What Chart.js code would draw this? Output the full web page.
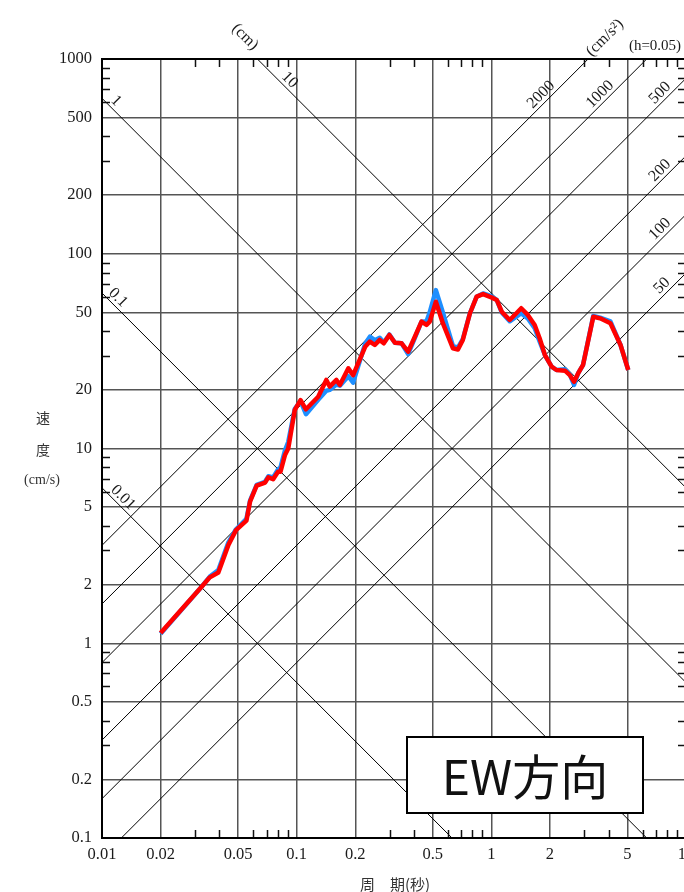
<!DOCTYPE html>
<html>
<head>
<meta charset="utf-8">
<script src="https://cdn.jsdelivr.net/npm/chart.js@4.4.1/dist/chart.umd.min.js"></script>
<style>
  html, body { margin: 0; padding: 0; overflow: hidden; background: #fff; }
  #wrap { position: relative; width: 720px; height: 892px; }
</style>
</head>
<body>
<div id="wrap"><canvas id="spec" width="720" height="892"></canvas></div>
<script>
// Pseudo-velocity response spectrum, h = 0.05, EW component
const periods = [
  0.02, 0.0325, 0.0358, 0.0396, 0.0446, 0.0488, 0.0552, 0.0576, 0.0623, 0.0688,
  0.0715, 0.0757, 0.0802, 0.0826, 0.0871, 0.0905, 0.0978, 0.1047, 0.1116, 0.129,
  0.142, 0.1478, 0.160, 0.1667, 0.1843, 0.195, 0.2248, 0.2377, 0.252, 0.267,
  0.2802, 0.2994, 0.3197, 0.3459, 0.3737, 0.4047, 0.4378, 0.4645, 0.4825, 0.519,
  0.5636, 0.6353, 0.6737, 0.7137, 0.7766, 0.8406, 0.907, 1.0, 1.066, 1.131,
  1.243, 1.345, 1.424, 1.54, 1.67, 1.77, 1.885, 2.04, 2.16, 2.39,
  2.53, 2.66, 2.79, 2.96, 3.34, 3.62, 4.09, 4.61, 5.05
];
const velRed = [
  1.13, 1.95, 2.18, 2.31, 3.20, 3.81, 4.26, 5.33, 6.44, 6.68,
  7.11, 6.95, 7.60, 7.60, 9.27, 10.0, 15.8, 17.7, 15.9, 18.45,
  22.5, 20.8, 22.5, 21.2, 25.8, 23.8, 33.3, 35.4, 34.0, 36.1,
  34.7, 38.3, 34.9, 34.7, 31.4, 37.5, 44.8, 43.1, 44.8, 56.7,
  44.0, 32.7, 32.2, 36.1, 49.5, 60.2, 62.1, 59.7, 57.9, 50.4,
  45.7, 49.5, 52.5, 48.5, 43.1, 36.8, 30.2, 26.3, 25.3, 25.1,
  23.8, 22.0, 24.3, 26.9, 47.5, 46.6, 44.0, 34.0, 25.3
];
const velBlue = [
  1.12, 1.95, 2.20, 2.38, 3.30, 3.85, 4.35, 5.40, 6.50, 6.75,
  7.20, 7.10, 7.80, 8.00, 9.80, 10.8, 16.0, 17.5, 15.0, 17.8,
  19.8, 20.0, 21.3, 21.0, 23.5, 21.8, 34.5, 37.5, 36.0, 37.0,
  35.0, 38.5, 34.9, 34.7, 30.5, 37.0, 44.8, 45.0, 50.0, 65.1,
  50.0, 33.5, 33.0, 36.5, 49.5, 60.2, 62.5, 60.5, 57.9, 50.0,
  45.0, 47.5, 49.5, 46.5, 41.5, 35.5, 30.2, 26.3, 25.3, 25.5,
  24.0, 21.2, 24.3, 26.9, 48.0, 47.0, 45.0, 34.0, 25.3
];

const xTicks = [0.01, 0.02, 0.05, 0.1, 0.2, 0.5, 1, 2, 5, 10];
const xTickLabels = ['0.01', '0.02', '0.05', '0.1', '0.2', '0.5', '1', '2', '5', '10'];
const yTicks = [0.1, 0.2, 0.5, 1, 2, 5, 10, 20, 50, 100, 200, 500, 1000];
const yTickLabels = ['0.1', '0.2', '0.5', '1', '2', '5', '10', '20', '50', '100', '200', '500', '1000'];
const minorMultipliers = [3, 4, 6, 7, 8, 9];

// Displacement (cm) and acceleration (cm/s²) guide lines
const dispLines = [0.01, 0.1, 1, 10];
const dispLabels = ['0.01', '0.1', '1', '10'];
const accLines = [50, 100, 200, 500, 1000, 2000];
const accLabels = ['50', '100', '200', '500', '1000', '2000'];

const TWO_PI = 2 * Math.PI;
const SERIF = '"Liberation Serif", "DejaVu Serif", serif';
const CJK = '"Noto Sans CJK JP", "Noto Sans", sans-serif';

function velFromDisp(D, T) { return TWO_PI * D / T; }
function velFromAcc(A, T) { return A * T / TWO_PI; }

function rotText(ctx, text, x, y, angle) {
  ctx.save();
  ctx.translate(x, y);
  ctx.rotate(angle);
  ctx.fillText(text, 0, 0);
  ctx.restore();
}

const tripartite = {
  id: 'tripartite',
  beforeDatasetsDraw(chart) {
    const { ctx, chartArea: a, scales: { x, y } } = chart;
    ctx.save();
    ctx.beginPath();
    ctx.rect(a.left, a.top, a.right - a.left, a.bottom - a.top);
    ctx.clip();
    ctx.strokeStyle = '#000';
    ctx.lineWidth = 1;
    const T0 = x.min, T1 = x.max;
    dispLines.forEach(D => {
      ctx.beginPath();
      ctx.moveTo(x.getPixelForValue(T0), y.getPixelForValue(velFromDisp(D, T0)));
      ctx.lineTo(x.getPixelForValue(T1), y.getPixelForValue(velFromDisp(D, T1)));
      ctx.stroke();
    });
    accLines.forEach(A => {
      ctx.beginPath();
      ctx.moveTo(x.getPixelForValue(T0), y.getPixelForValue(velFromAcc(A, T0)));
      ctx.lineTo(x.getPixelForValue(T1), y.getPixelForValue(velFromAcc(A, T1)));
      ctx.stroke();
    });
    ctx.restore();

    // minor ticks on all four sides
    ctx.save();
    ctx.strokeStyle = '#111';
    ctx.lineWidth = 1.5;
    const tl = 8;
    for (let d = 0.01; d < 10; d *= 10) {
      minorMultipliers.forEach(m => {
        const px = Math.round(x.getPixelForValue(m * d)) + 0.5;
        ctx.beginPath();
        ctx.moveTo(px, a.top); ctx.lineTo(px, a.top + tl);
        ctx.moveTo(px, a.bottom); ctx.lineTo(px, a.bottom - tl);
        ctx.stroke();
      });
    }
    for (let d = 0.1; d < 1000; d *= 10) {
      minorMultipliers.forEach(m => {
        const py = Math.round(y.getPixelForValue(m * d)) + 0.5;
        ctx.beginPath();
        ctx.moveTo(a.left, py); ctx.lineTo(a.left + tl, py);
        ctx.moveTo(a.right, py); ctx.lineTo(a.right - tl, py);
        ctx.stroke();
      });
    }
    ctx.restore();
  },
  afterDatasetsDraw(chart) {
    const { ctx, chartArea: a, scales: { x, y } } = chart;
    ctx.save();
    // frame
    ctx.strokeStyle = '#000';
    ctx.lineWidth = 2;
    ctx.strokeRect(a.left, a.top, a.right - a.left, a.bottom - a.top);

    // tick labels
    ctx.fillStyle = '#1a1a1a';
    ctx.font = '16.5px ' + SERIF;
    ctx.textAlign = 'right';
    ctx.textBaseline = 'middle';
    yTicks.forEach((v, i) => ctx.fillText(yTickLabels[i], a.left - 10, y.getPixelForValue(v)));
    ctx.textAlign = 'center';
    xTicks.forEach((v, i) => ctx.fillText(xTickLabels[i], x.getPixelForValue(v), a.bottom + 17));

    // guide line labels
    ctx.font = '16px ' + SERIF;
    const off = 5.7;
    const dispAnchorDx = { '0.01': 15.3, '0.1': 10.3, '1': 8.3, '10': 182 };
    dispLines.forEach((D, i) => {
      const px = a.left + dispAnchorDx[dispLabels[i]];
      const py = y.getPixelForValue(velFromDisp(D, x.getValueForPixel(px)));
      rotText(ctx, dispLabels[i], px + off, py - off, Math.PI / 4);
    });
    const accAnchorDx = { '50': 565.7, '100': 563.7, '200': 563.7, '500': 563.7, '1000': 503.7, '2000': 444.7 };
    accLines.forEach((A, i) => {
      const px = a.left + accAnchorDx[accLabels[i]];
      const py = y.getPixelForValue(velFromAcc(A, x.getValueForPixel(px)));
      rotText(ctx, accLabels[i], px - off, py - off, -Math.PI / 4);
    });
    rotText(ctx, '(cm)', a.left + 143, a.top - 22, Math.PI / 4);
    rotText(ctx, '(cm/s²)', a.left + 503, a.top - 21, -Math.PI / 4);
    ctx.font = '15px ' + SERIF;
    ctx.fillText('(h=0.05)', a.left + 553, a.top - 13);

    // axis titles
    ctx.fillStyle = '#333';
    ctx.font = '14px ' + CJK;
    ctx.fillText('速', 43, 418);
    ctx.fillText('度', 43, 450);
    ctx.font = '14px ' + SERIF;
    ctx.fillText('(cm/s)', 42, 480);
    ctx.font = '15px ' + CJK;
    ctx.fillText('周\u3000期(秒)', 395, 884);

    // component box
    const bx = a.left + 305, by = a.top + 678, bw = 236, bh = 76;
    ctx.fillStyle = '#fff';
    ctx.fillRect(bx, by, bw, bh);
    ctx.strokeStyle = '#000';
    ctx.lineWidth = 2;
    ctx.strokeRect(bx, by, bw, bh);
    ctx.fillStyle = '#111';
    ctx.font = '48px ' + CJK;
    ctx.fillText('EW方向', bx + bw / 2, by + bh / 2 + 2);
    ctx.restore();
  }
};

const toPoints = vals => periods.map((t, i) => ({ x: t, y: vals[i] }));

new Chart(document.getElementById('spec'), {
  type: 'scatter',
  data: {
    datasets: [
      { label: 'EW-2', data: toPoints(velRed), borderColor: '#ff0000', borderWidth: 4.5,
        showLine: true, pointRadius: 0, tension: 0, borderJoinStyle: 'round', order: 0 },
      { label: 'EW-1', data: toPoints(velBlue), borderColor: '#1e8fff', borderWidth: 4.5,
        showLine: true, pointRadius: 0, tension: 0, borderJoinStyle: 'round', order: 1 }
    ]
  },
  options: {
    responsive: false,
    animation: false,
    events: [],
    layout: { padding: { left: 102, top: 59, right: 34, bottom: 54 } },
    plugins: { legend: { display: false }, tooltip: { enabled: false } },
    scales: {
      x: {
        type: 'logarithmic', min: 0.01, max: 10,
        afterBuildTicks: s => { s.ticks = xTicks.map(v => ({ value: v })); },
        afterFit: s => { s.height = 0; },
        ticks: { display: false },
        grid: { color: '#555', lineWidth: 1.5, drawTicks: false },
        border: { display: false }
      },
      y: {
        type: 'logarithmic', min: 0.1, max: 1000,
        afterBuildTicks: s => { s.ticks = yTicks.map(v => ({ value: v })); },
        afterFit: s => { s.width = 0; },
        ticks: { display: false },
        grid: { color: '#555', lineWidth: 1.5, drawTicks: false },
        border: { display: false }
      }
    }
  },
  plugins: [tripartite]
});
</script>
</body>
</html>
